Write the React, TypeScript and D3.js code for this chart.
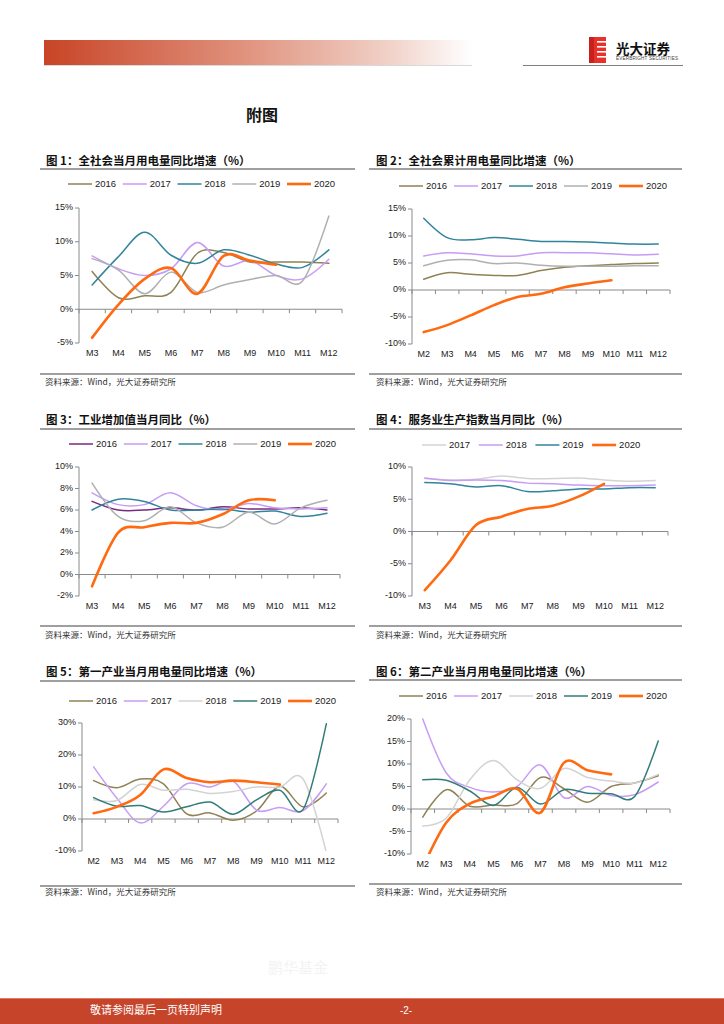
import React from "react";
import * as d3 from "d3";

// ---------- DATA ----------
const monthsM3 = ["M3", "M4", "M5", "M6", "M7", "M8", "M9", "M10", "M11", "M12"];
const monthsM2 = ["M2", "M3", "M4", "M5", "M6", "M7", "M8", "M9", "M10", "M11", "M12"];

// Fig 1: 全社会当月用电量同比增速
const f1y2016 = [5.6, 1.7, 2.0, 2.5, 8.3, 8.4, 7.0, 7.0, 7.0, 6.8];
const f1y2017 = [7.9, 6.0, 5.0, 6.0, 9.9, 6.4, 7.2, 5.0, 4.5, 7.4];
const f1y2018 = [3.6, 7.8, 11.4, 8.0, 6.8, 8.8, 8.0, 6.7, 6.2, 8.8];
const f1y2019 = [7.5, 5.8, 2.3, 5.5, 2.5, 3.6, 4.4, 5.0, 4.2, 13.8];
const f1y2020 = [-4.2, 0.7, 4.5, 6.1, 2.3, 7.9, 7.2, 6.6];

// Fig 2: 全社会累计用电量同比增速
const f2y2016 = [2.0, 3.2, 2.9, 2.7, 2.7, 3.6, 4.2, 4.5, 4.7, 4.9, 5.0];
const f2y2017 = [6.3, 6.9, 6.7, 6.3, 6.3, 6.9, 6.9, 6.9, 6.7, 6.5, 6.6];
const f2y2018 = [13.3, 9.7, 9.3, 9.7, 9.4, 9.0, 9.0, 8.9, 8.7, 8.5, 8.5];
const f2y2019 = [4.5, 5.5, 5.6, 4.9, 5.0, 4.6, 4.4, 4.4, 4.4, 4.5, 4.5];
const f2y2020 = [-7.8, -6.5, -4.7, -2.8, -1.3, -0.7, 0.5, 1.2, 1.8];

// Fig 3: 工业增加值当月同比
const f3y2016 = [6.8, 6.0, 6.0, 6.2, 6.0, 6.3, 6.1, 6.1, 6.2, 6.0];
const f3y2017 = [7.6, 6.5, 6.5, 7.6, 6.4, 6.0, 6.6, 6.2, 6.1, 6.2];
const f3y2018 = [6.0, 7.0, 6.8, 6.0, 6.0, 6.1, 5.8, 5.9, 5.4, 5.7];
const f3y2019 = [8.5, 5.4, 5.0, 6.3, 4.8, 4.4, 5.8, 4.7, 6.2, 6.9];
const f3y2020 = [-1.1, 3.9, 4.4, 4.8, 4.8, 5.6, 6.9, 6.9];

// Fig 4: 服务业生产指数当月同比
const f4y2017 = [8.2, 8.0, 8.1, 8.6, 8.2, 8.2, 8.3, 8.0, 7.8, 7.9];
const f4y2018 = [8.3, 7.9, 8.0, 7.9, 7.5, 7.4, 7.2, 7.1, 7.1, 7.2];
const f4y2019 = [7.6, 7.4, 6.9, 7.1, 6.2, 6.3, 6.6, 6.6, 6.8, 6.8];
const f4y2020 = [-9.1, -4.5, 1.0, 2.3, 3.5, 4.0, 5.4, 7.4];

// Fig 5: 第一产业当月用电量同比增速
const f5y2016 = [12.0, 9.8, 12.5, 11.0, 1.6, 1.9, -0.4, 2.5, 10.2, 3.8, 8.1];
const f5y2017 = [16.3, 6.5, -1.2, 4.0, 11.0, 10.0, 11.8, 2.8, 3.6, 2.6, 11.0];
const f5y2018 = [6.0, 5.8, 10.8, 9.0, 9.3, 8.0, 8.6, 10.0, 10.0, 12.5, -10.5];
const f5y2019 = [6.7, 4.0, 4.2, 2.2, 3.8, 5.3, 1.5, 6.0, 9.0, 3.0, 29.8];
const f5y2020 = [1.8, 3.8, 7.5, 15.5, 12.8, 11.5, 12.0, 11.5, 10.8];

// Fig 6: 第二产业当月用电量同比增速
const f6y2016 = [-1.8, 4.3, 0.6, 0.9, 1.2, 7.0, 4.5, 1.5, 5.0, 5.8, 7.4];
const f6y2017 = [20.0, 8.0, 4.8, 3.8, 5.0, 9.8, 2.5, 5.0, 3.0, 3.2, 6.0];
const f6y2018 = [-3.8, -2.0, 6.5, 10.8, 6.5, 4.6, 9.0, 7.0, 6.2, 5.8, 7.7];
const f6y2019 = [6.5, 6.4, 4.0, 0.8, 4.8, 1.1, 4.3, 3.5, 3.4, 2.8, 15.1];
const f6y2020 = [-13.0, -3.0, 1.2, 2.8, 4.5, -0.8, 10.3, 8.6, 7.7];

const sourceText = "资料来源：Wind，光大证券研究所";

// ---------- STYLE ----------
const C_OLIVE = "#8f8255";
const C_LPURPLE = "#c79cf6";
const C_TEAL = "#31849b";
const C_GRAY = "#b0b0b0";
const C_LGRAY = "#d3d3d3";
const C_ORANGE = "#ff6a10";
const C_MAGENTA = "#7a2a80";
const C_TEAL2 = "#327d78";
const AXIS = "#8a8a8a";
const CN = "'Noto Sans CJK SC', 'Noto Sans', sans-serif";
const LAT = "'Liberation Sans', Arial, 'Noto Sans CJK SC', sans-serif";

type Series = { name: string; values: number[]; color: string; width: number };
type Cfg = {
  id: string;
  title: string;
  titleX: number;
  titleY: number;
  frameX1: number;
  frameX2: number;
  titleLineY: number;
  legendX: number;
  legendStep: number;
  legendY: number;
  axisX0: number;
  axisX1: number;
  yTop: number;
  yBottom: number;
  domain: [number, number];
  step: number;
  cats: string[];
  series: Series[];
  bottomLineY: number;
  sourceY: number;
  sourceX: number;
};

function Chart({ cfg }: { cfg: Cfg }) {
  const x = d3.scaleBand<string>().domain(cfg.cats).range([cfg.axisX0, cfg.axisX1]);
  const y = d3.scaleLinear().domain(cfg.domain).range([cfg.yBottom, cfg.yTop]);
  const ticks = d3.range(cfg.domain[0], cfg.domain[1] + 0.001, cfg.step);
  const line = d3
    .line<number>()
    .x((_, i) => (x(cfg.cats[i]) as number) + x.bandwidth() / 2)
    .y((v) => y(v))
    .curve(d3.curveCardinal.tension(0));
  const y0 = y(0);
  const boundaries = d3.range(cfg.cats.length + 1).map((i) => cfg.axisX0 + i * x.bandwidth());
  return (
    <g>
      <text x={cfg.titleX} y={cfg.titleY} fontFamily={CN} fontSize={11.5} fontWeight="bold" fill="#111" dominantBaseline="middle">
        {cfg.title}
      </text>
      <line x1={cfg.frameX1} x2={cfg.frameX2} y1={cfg.titleLineY} y2={cfg.titleLineY} stroke="#7f7f7f" strokeWidth={1.3} />
      {/* legend */}
      {cfg.series.map((s, i) => {
        const lx = cfg.legendX + i * cfg.legendStep;
        return (
          <g key={s.name}>
            <line x1={lx} x2={lx + 24} y1={cfg.legendY} y2={cfg.legendY} stroke={s.color} strokeWidth={s.width} />
            <text x={lx + 27} y={cfg.legendY} fontFamily={LAT} fontSize={9.5} fill="#222" dominantBaseline="middle">
              {s.name}
            </text>
          </g>
        );
      })}
      {/* y axis */}
      <line x1={cfg.axisX0} x2={cfg.axisX0} y1={cfg.yTop} y2={cfg.yBottom} stroke={AXIS} strokeWidth={1} />
      {ticks.map((t) => (
        <g key={t}>
          <line x1={cfg.axisX0 - 4} x2={cfg.axisX0} y1={y(t)} y2={y(t)} stroke={AXIS} strokeWidth={1} />
          <text x={cfg.axisX0 - 6} y={y(t)} textAnchor="end" dominantBaseline="middle" fontFamily={LAT} fontSize={9} fill="#222">
            {`${t}%`}
          </text>
        </g>
      ))}
      {/* x axis */}
      <line x1={cfg.axisX0} x2={cfg.axisX1} y1={y0} y2={y0} stroke={AXIS} strokeWidth={1} />
      {boundaries.map((b, i) => (
        <line key={i} x1={b} x2={b} y1={y0} y2={y0 + 4} stroke={AXIS} strokeWidth={1} />
      ))}
      {cfg.cats.map((c) => (
        <text key={c} x={(x(c) as number) + x.bandwidth() / 2} y={cfg.yBottom + 11} textAnchor="middle" dominantBaseline="middle" fontFamily={LAT} fontSize={9} fill="#222">
          {c}
        </text>
      ))}
      <clipPath id={`clip-${cfg.id}`}>
        <rect x={cfg.axisX0} y={cfg.yTop - 3} width={cfg.axisX1 - cfg.axisX0} height={cfg.yBottom - cfg.yTop + 3} />
      </clipPath>
      <g clipPath={`url(#clip-${cfg.id})`}>
        {cfg.series.map((s) => (
          <path key={s.name} d={line(s.values) || ""} fill="none" stroke={s.color} strokeWidth={s.width} strokeLinejoin="round" strokeLinecap="round" />
        ))}
      </g>
      <line x1={cfg.frameX1} x2={cfg.frameX2} y1={cfg.bottomLineY} y2={cfg.bottomLineY} stroke="#7f7f7f" strokeWidth={1.3} />
      <text x={cfg.sourceX} y={cfg.sourceY} fontFamily={CN} fontSize={8.5} fill="#333" dominantBaseline="middle">
        {sourceText}
      </text>
    </g>
  );
}

const W = 1.5;
const WO = 2.6;

const charts: Cfg[] = [
  {
    id: "c1", title: "图 1：全社会当月用电量同比增速（%）", titleX: 46, titleY: 162, frameX1: 40, frameX2: 355, titleLineY: 169,
    legendX: 68, legendStep: 54.75, legendY: 184, axisX0: 79, axisX1: 342, yTop: 208, yBottom: 343, domain: [-5, 15], step: 5,
    cats: monthsM3, bottomLineY: 374, sourceY: 383, sourceX: 45,
    series: [
      { name: "2016", values: f1y2016, color: C_OLIVE, width: W },
      { name: "2017", values: f1y2017, color: C_LPURPLE, width: W },
      { name: "2018", values: f1y2018, color: C_TEAL, width: W },
      { name: "2019", values: f1y2019, color: C_GRAY, width: W },
      { name: "2020", values: f1y2020, color: C_ORANGE, width: WO },
    ],
  },
  {
    id: "c2", title: "图 2：全社会累计用电量同比增速（%）", titleX: 376, titleY: 162, frameX1: 369, frameX2: 682, titleLineY: 169,
    legendX: 399, legendStep: 55, legendY: 186, axisX0: 412, axisX1: 670, yTop: 209, yBottom: 344, domain: [-10, 15], step: 5,
    cats: monthsM2, bottomLineY: 374, sourceY: 383, sourceX: 376,
    series: [
      { name: "2016", values: f2y2016, color: C_OLIVE, width: W },
      { name: "2017", values: f2y2017, color: C_LPURPLE, width: W },
      { name: "2018", values: f2y2018, color: C_TEAL, width: W },
      { name: "2019", values: f2y2019, color: C_GRAY, width: W },
      { name: "2020", values: f2y2020, color: C_ORANGE, width: WO },
    ],
  },
  {
    id: "c3", title: "图 3：工业增加值当月同比（%）", titleX: 46, titleY: 421, frameX1: 40, frameX2: 355, titleLineY: 429,
    legendX: 69, legendStep: 54.75, legendY: 444, axisX0: 79, axisX1: 340, yTop: 467, yBottom: 596, domain: [-2, 10], step: 2,
    cats: monthsM3, bottomLineY: 626, sourceY: 636, sourceX: 45,
    series: [
      { name: "2016", values: f3y2016, color: C_MAGENTA, width: W },
      { name: "2017", values: f3y2017, color: C_LPURPLE, width: W },
      { name: "2018", values: f3y2018, color: C_TEAL, width: W },
      { name: "2019", values: f3y2019, color: C_GRAY, width: W },
      { name: "2020", values: f3y2020, color: C_ORANGE, width: WO },
    ],
  },
  {
    id: "c4", title: "图 4：服务业生产指数当月同比（%）", titleX: 376, titleY: 421, frameX1: 369, frameX2: 682, titleLineY: 429,
    legendX: 422, legendStep: 56.7, legendY: 445, axisX0: 412, axisX1: 668, yTop: 467, yBottom: 596, domain: [-10, 10], step: 5,
    cats: monthsM3, bottomLineY: 626, sourceY: 636, sourceX: 376,
    series: [
      { name: "2017", values: f4y2017, color: C_LGRAY, width: W },
      { name: "2018", values: f4y2018, color: C_LPURPLE, width: W },
      { name: "2019", values: f4y2019, color: C_TEAL, width: W },
      { name: "2020", values: f4y2020, color: C_ORANGE, width: WO },
    ],
  },
  {
    id: "c5", title: "图 5：第一产业当月用电量同比增速（%）", titleX: 46, titleY: 673, frameX1: 40, frameX2: 355, titleLineY: 681,
    legendX: 69, legendStep: 54.75, legendY: 701, axisX0: 82, axisX1: 338, yTop: 723, yBottom: 851, domain: [-10, 30], step: 10,
    cats: monthsM2, bottomLineY: 886, sourceY: 893, sourceX: 45,
    series: [
      { name: "2016", values: f5y2016, color: C_OLIVE, width: W },
      { name: "2017", values: f5y2017, color: C_LPURPLE, width: W },
      { name: "2018", values: f5y2018, color: C_LGRAY, width: W },
      { name: "2019", values: f5y2019, color: C_TEAL2, width: W },
      { name: "2020", values: f5y2020, color: C_ORANGE, width: WO },
    ],
  },
  {
    id: "c6", title: "图 6：第二产业当月用电量同比增速（%）", titleX: 376, titleY: 673, frameX1: 369, frameX2: 682, titleLineY: 680,
    legendX: 399, legendStep: 55, legendY: 696, axisX0: 411, axisX1: 670, yTop: 719, yBottom: 854, domain: [-10, 20], step: 5,
    cats: monthsM2, bottomLineY: 884, sourceY: 893, sourceX: 376,
    series: [
      { name: "2016", values: f6y2016, color: C_OLIVE, width: W },
      { name: "2017", values: f6y2017, color: C_LPURPLE, width: W },
      { name: "2018", values: f6y2018, color: C_LGRAY, width: W },
      { name: "2019", values: f6y2019, color: C_TEAL2, width: W },
      { name: "2020", values: f6y2020, color: C_ORANGE, width: WO },
    ],
  },
];

function Logo() {
  const stripes = [41, 46, 51, 56];
  return (
    <g>
      <rect x={589} y={37} width={17} height={26} fill="#e8312a" />
      <rect x={589} y={37} width={5} height={26} fill="#c8201c" />
      {stripes.map((s) => (
        <rect key={s} x={597} y={s} width={9} height={1.6} fill="#fff" />
      ))}
      <text x={616} y={50} fontFamily={CN} fontSize={13.5} fontWeight="bold" fill="#111" dominantBaseline="middle">光大证券</text>
      <text x={616} y={59} fontFamily={LAT} fontSize={4.6} fill="#444" dominantBaseline="middle" textLength={62}>EVERBRIGHT SECURITIES</text>
    </g>
  );
}

export default function App() {
  return (
    <svg width={724} height={1024} style={{ position: "absolute", left: 0, top: 0, background: "#fff" }}>
      <defs>
        <linearGradient id="hdr" x1="0" x2="1" y1="0" y2="0">
          <stop offset="0" stopColor="#c84426" />
          <stop offset="0.45" stopColor="#df8f7a" />
          <stop offset="0.8" stopColor="#f0d0c6" />
          <stop offset="1" stopColor="#ffffff" />
        </linearGradient>
      </defs>
      <rect x={0} y={0} width={724} height={1024} fill="#fff" />
      <rect x={44} y={40} width={428} height={25} fill="url(#hdr)" />
      <line x1={44} x2={472} y1={65.5} y2={65.5} stroke="#d9d9d9" strokeWidth={1} />
      <line x1={523} x2={683} y1={65.5} y2={65.5} stroke="#7f7f7f" strokeWidth={1.2} />
      <Logo />
      <text x={262} y={117} textAnchor="middle" dominantBaseline="middle" fontFamily={CN} fontSize={16} fontWeight="bold" fill="#111">附图</text>
      {charts.map((c) => (
        <Chart key={c.id} cfg={c} />
      ))}
      <text x={268} y={969} fontFamily={CN} fontSize={15} fill="#f3f3f3" dominantBaseline="middle">鹏华基金</text>
      <rect x={0} y={998} width={724} height={26} fill="#c5442a" />
      <line x1={0} x2={724} y1={998.5} y2={998.5} stroke="#e07a63" strokeWidth={1} />
      <text x={90} y={1011} fontFamily={CN} fontSize={11} fill="#fff" dominantBaseline="middle">敬请参阅最后一页特别声明</text>
      <text x={406} y={1011} fontFamily={LAT} fontSize={10} fill="#fff" textAnchor="middle" dominantBaseline="middle">-2-</text>
    </svg>
  );
}
